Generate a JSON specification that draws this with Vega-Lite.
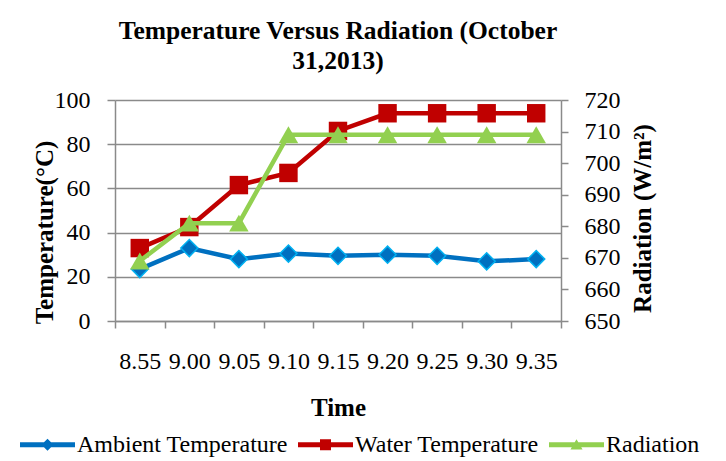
{
  "$schema": "https://vega.github.io/schema/vega-lite/v6.json",
  "width": 446,
  "height": 221,
  "autosize": {"type": "none"},
  "padding": {"left": 115, "top": 100, "right": 165, "bottom": 140},
  "background": "white",
  "config": {"view": {"stroke": null}, "font": "Liberation Serif"},
  "title": {
    "text": ["Temperature Versus Radiation (October", "31,2013)"],
    "anchor": "middle",
    "frame": "group",
    "font": "Liberation Serif",
    "fontSize": 25.5,
    "fontWeight": "bold",
    "color": "black",
    "lineHeight": 30,
    "offset": 14
  },
  "data": {
    "values": [
      {"time": "8.55", "series": "Ambient Temperature", "value": 23.5},
      {"time": "9.00", "series": "Ambient Temperature", "value": 33},
      {"time": "9.05", "series": "Ambient Temperature", "value": 28},
      {"time": "9.10", "series": "Ambient Temperature", "value": 30.5},
      {"time": "9.15", "series": "Ambient Temperature", "value": 29.5},
      {"time": "9.20", "series": "Ambient Temperature", "value": 30},
      {"time": "9.25", "series": "Ambient Temperature", "value": 29.5},
      {"time": "9.30", "series": "Ambient Temperature", "value": 27},
      {"time": "9.35", "series": "Ambient Temperature", "value": 28},
      {"time": "8.55", "series": "Water Temperature", "value": 33},
      {"time": "9.00", "series": "Water Temperature", "value": 42.5},
      {"time": "9.05", "series": "Water Temperature", "value": 61.5},
      {"time": "9.10", "series": "Water Temperature", "value": 67},
      {"time": "9.15", "series": "Water Temperature", "value": 86},
      {"time": "9.20", "series": "Water Temperature", "value": 94},
      {"time": "9.25", "series": "Water Temperature", "value": 94},
      {"time": "9.30", "series": "Water Temperature", "value": 94},
      {"time": "9.35", "series": "Water Temperature", "value": 94},
      {"time": "8.55", "series": "Radiation", "value": 669},
      {"time": "9.00", "series": "Radiation", "value": 681},
      {"time": "9.05", "series": "Radiation", "value": 681},
      {"time": "9.10", "series": "Radiation", "value": 709},
      {"time": "9.15", "series": "Radiation", "value": 709},
      {"time": "9.20", "series": "Radiation", "value": 709},
      {"time": "9.25", "series": "Radiation", "value": 709},
      {"time": "9.30", "series": "Radiation", "value": 709},
      {"time": "9.35", "series": "Radiation", "value": 709}
    ]
  },
  "encoding": {
    "x": {
      "field": "time",
      "type": "ordinal",
      "scale": {
        "type": "band",
        "domain": ["8.55", "9.00", "9.05", "9.10", "9.15", "9.20", "9.25", "9.30", "9.35"],
        "paddingInner": 0,
        "paddingOuter": 0
      },
      "axis": {
        "title": "Time",
        "titleFont": "Liberation Serif",
        "titleFontSize": 25,
        "titleFontWeight": "bold",
        "titleColor": "black",
        "titleY": 86,
        "titleBaseline": "middle",
        "labelAngle": 0,
        "labelFont": "Liberation Serif",
        "labelFontSize": 24,
        "labelColor": "black",
        "labelPadding": 21,
        "tickBand": "extent",
        "tickSize": 7,
        "tickColor": "#8a8a8a",
        "tickWidth": 1.5,
        "domainColor": "#8a8a8a",
        "domainWidth": 1.5,
        "grid": false
      }
    }
  },
  "layer": [
    {
      "encoding": {
        "y": {
          "field": "value",
          "type": "quantitative",
          "scale": {"domain": [0, 100], "nice": false, "zero": false},
          "axis": {
            "title": "Temperature(°C)",
            "titleFont": "Liberation Serif",
            "titleFontSize": 25,
            "titleFontWeight": "bold",
            "titleColor": "black",
            "titleAngle": 270,
            "titleX": -71,
            "titleY": 132,
            "titleAlign": "center",
            "titleBaseline": "middle",
            "values": [0, 20, 40, 60, 80, 100],
            "labelFont": "Liberation Serif",
            "labelFontSize": 24,
            "labelColor": "black",
            "labelPadding": 17,
            "tickSize": 8,
            "tickColor": "#8a8a8a",
            "tickWidth": 1.5,
            "domainColor": "#8a8a8a",
            "domainWidth": 1.5,
            "grid": true,
            "gridColor": "#8a8a8a",
            "gridWidth": 1.5
          }
        }
      },
      "layer": [
        {
          "transform": [{"filter": "datum.series === 'Ambient Temperature'"}],
          "mark": {"type": "line", "color": "#0070C0", "strokeWidth": 4.5}
        },
        {
          "transform": [{"filter": "datum.series === 'Ambient Temperature'"}],
          "mark": {"type": "point", "shape": "diamond", "filled": true, "fill": "#0070C0", "stroke": "#00B0F0", "strokeWidth": 1.5, "size": 290, "opacity": 1}
        },
        {
          "transform": [{"filter": "datum.series === 'Water Temperature'"}],
          "mark": {"type": "line", "color": "#C00000", "strokeWidth": 4.5}
        },
        {
          "transform": [{"filter": "datum.series === 'Water Temperature'"}],
          "mark": {"type": "point", "shape": "square", "filled": true, "color": "#C00000", "size": 340, "opacity": 1}
        },
        {
          "transform": [{"filter": "datum.series !== 'Radiation'"}],
          "mark": {"type": "point", "filled": true, "opacity": 0, "size": 3025},
          "encoding": {
            "color": {
              "field": "series",
              "type": "nominal",
              "scale": {
                "domain": ["Ambient Temperature", "Water Temperature", "Radiation"],
                "range": ["#0070C0", "#C00000", "#92D050"]
              },
              "legend": {
                "orient": "none",
                "legendX": -95,
                "legendY": 317,
                "direction": "horizontal",
                "title": null,
                "padding": 0,
                "labelFont": "Liberation Serif",
                "labelFontSize": 24,
                "labelColor": "black",
                "labelLimit": 400,
                "labelOffset": 2,
                "columnPadding": 10,
                "symbolSize": 3025,
                "symbolStrokeWidth": 0,
                "symbolOpacity": 1
              }
            },
            "shape": {
              "field": "series",
              "type": "nominal",
              "scale": {
                "domain": ["Ambient Temperature", "Water Temperature", "Radiation"],
                "range": [
                  "M-1,-0.09L1,-0.09L1,0.09L-1,0.09Z M0,-0.22L0.22,0L0,0.22L-0.22,0Z",
                  "M-1,-0.09L1,-0.09L1,0.09L-1,0.09Z M-0.2,-0.2L0.2,-0.2L0.2,0.2L-0.2,0.2Z",
                  "M-1,-0.09L1,-0.09L1,0.09L-1,0.09Z M0,-0.2L0.22,0.17L-0.22,0.17Z"
                ]
              },
              "legend": {
                "orient": "none",
                "legendX": -95,
                "legendY": 317,
                "direction": "horizontal",
                "title": null,
                "padding": 0,
                "labelFont": "Liberation Serif",
                "labelFontSize": 24,
                "labelColor": "black",
                "labelLimit": 400,
                "labelOffset": 2,
                "columnPadding": 10,
                "symbolSize": 3025,
                "symbolStrokeWidth": 0,
                "symbolOpacity": 1
              }
            }
          }
        }
      ]
    },
    {
      "encoding": {
        "y": {
          "field": "value",
          "type": "quantitative",
          "scale": {"domain": [650, 720], "nice": false, "zero": false},
          "axis": {
            "orient": "right",
            "title": "Radiation (W/m²)",
            "titleFont": "Liberation Serif",
            "titleFontSize": 25,
            "titleFontWeight": "bold",
            "titleColor": "black",
            "titleAngle": 270,
            "titleX": 81,
            "titleY": 118,
            "titleAlign": "center",
            "titleBaseline": "middle",
            "values": [650, 660, 670, 680, 690, 700, 710, 720],
            "labelFont": "Liberation Serif",
            "labelFontSize": 24,
            "labelColor": "black",
            "labelPadding": 16,
            "tickSize": 7,
            "tickColor": "#8a8a8a",
            "tickWidth": 1.5,
            "domainColor": "#8a8a8a",
            "domainWidth": 1.5,
            "grid": false
          }
        }
      },
      "layer": [
        {
          "transform": [{"filter": "datum.series === 'Radiation'"}],
          "mark": {"type": "line", "color": "#92D050", "strokeWidth": 4.5}
        },
        {
          "transform": [{"filter": "datum.series === 'Radiation'"}],
          "mark": {"type": "point", "shape": "triangle-up", "filled": true, "color": "#92D050", "size": 380, "opacity": 1}
        }
      ]
    }
  ],
  "resolve": {"scale": {"y": "independent"}}
}
